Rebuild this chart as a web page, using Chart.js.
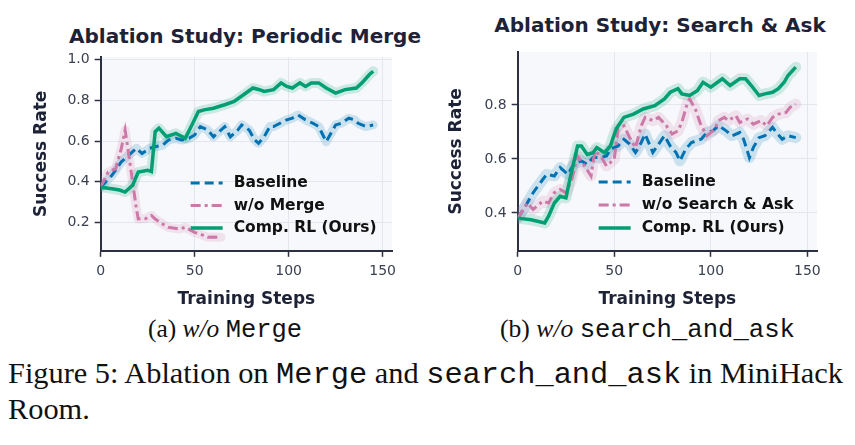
<!DOCTYPE html>
<html>
<head>
<meta charset="utf-8">
<script src="https://cdn.jsdelivr.net/npm/chart.js@4.4.1/dist/chart.umd.min.js"></script>
<style>
  body { margin: 0; background: #fff; width: 855px; height: 445px; overflow: hidden; position: relative; }
  canvas { position: absolute; top: 0; }
  #mergeChart { left: 0; }
  #searchChart { left: 425px; }
  .ptitle { position: absolute; transform: translate(-50%, -50%); white-space: nowrap;
            font: bold 20px "DejaVu Sans", sans-serif; color: #1d2236; }
  .sub { position: absolute; white-space: nowrap; transform-origin: 0 50%;
         font: 25px/30px "Liberation Serif", serif; color: #111; }
  .tt { font-family: "Liberation Mono", monospace; }
  .figcap { position: absolute; left: 8px; top: 356px; white-space: nowrap; transform-origin: 0 0;
            font: 30px/34px "Liberation Serif", serif; color: #111; }
</style>
</head>
<body>
<div class="ptitle" style="left:245px;top:36px">Ablation Study: Periodic Merge</div>
<div class="ptitle" style="left:660px;top:25px">Ablation Study: Search &amp; Ask</div>
<canvas id="mergeChart" width="420" height="310"></canvas>
<canvas id="searchChart" width="430" height="310"></canvas>
<div class="sub" id="capA" style="top:314px">(a) <i>w/o</i> <span class="tt">Merge</span></div>
<div class="sub" id="capB" style="top:314px">(b) <i>w/o</i> <span class="tt">search_and_ask</span></div>
<div class="figcap" id="figCap">Figure 5: Ablation on <span class="tt">Merge</span> and <span class="tt">search_and_ask</span> in MiniHack<br>Room.</div>
<script>
// ---- data ----
const xTicks = [0, 50, 100, 150];
const mergeYTicks = [0.2, 0.4, 0.6, 0.8, 1.0];
const searchYTicks = [0.4, 0.6, 0.8];

// (a) periodic merge
const mergeBaselineSteps = [0,6,11,15,19,22,26,29,33,36,40,43,47,50,53,57,60,64,66,69,73,75,79,82,84,87,90,92,96,99,102,105,109,113,116,120,122,125,128,132,135,137,141,145];
const mergeBaselineVals = [0.374,0.432,0.498,0.531,0.564,0.539,0.564,0.572,0.58,0.605,0.613,0.605,0.613,0.63,0.671,0.654,0.621,0.654,0.671,0.621,0.654,0.679,0.654,0.605,0.589,0.621,0.671,0.671,0.69,0.704,0.712,0.728,0.704,0.687,0.671,0.597,0.63,0.679,0.687,0.712,0.704,0.687,0.671,0.679];
const mergeAblSteps = [0,4,8,11,13,15,17,19,20,24,27,29,33,36,42,45,50,53,57,60,64];
const mergeAblVals = [0.374,0.448,0.465,0.564,0.654,0.531,0.399,0.268,0.218,0.22,0.235,0.218,0.193,0.177,0.169,0.177,0.152,0.144,0.128,0.13,0.128];
const mergeOursSteps = [0,6,10,13,17,20,25,27,29,31,35,40,45,49,52,55,60,66,71,76,81,84,87,92,96,99,102,106,109,112,116,120,125,130,136,139,143,145];
const mergeOursVals = [0.374,0.366,0.36,0.35,0.383,0.448,0.457,0.45,0.646,0.663,0.621,0.638,0.613,0.687,0.745,0.753,0.761,0.778,0.794,0.827,0.86,0.853,0.843,0.852,0.885,0.868,0.86,0.885,0.868,0.885,0.885,0.86,0.835,0.852,0.86,0.885,0.926,0.942];

// (b) search & ask
const searchBaselineSteps = [0,4,8,13,15,19,22,26,29,33,36,39,43,46,48,52,55,58,61,64,66,70,73,76,79,82,84,87,90,95,98,101,104,108,111,115,117,120,122,125,128,132,134,137,140,144];
const searchBaselineVals = [0.381,0.425,0.475,0.524,0.543,0.537,0.568,0.543,0.58,0.593,0.58,0.605,0.605,0.611,0.636,0.648,0.673,0.655,0.624,0.661,0.692,0.624,0.655,0.686,0.648,0.624,0.593,0.636,0.661,0.673,0.698,0.704,0.723,0.704,0.686,0.698,0.673,0.605,0.642,0.679,0.686,0.717,0.698,0.673,0.686,0.679];
const searchAblSteps = [0,5,8,13,16,19,22,25,28,31,33,38,40,43,46,50,52,55,58,61,64,66,70,73,77,80,83,85,88,89,92,95,98,102,104,107,109,113,115,119,122,126,129,132,135,139,141,144];
const searchAblVals = [0.381,0.437,0.413,0.444,0.437,0.475,0.487,0.475,0.524,0.611,0.593,0.537,0.63,0.611,0.574,0.599,0.711,0.723,0.679,0.642,0.723,0.754,0.742,0.754,0.723,0.692,0.704,0.735,0.81,0.822,0.785,0.723,0.686,0.71,0.742,0.754,0.742,0.76,0.735,0.748,0.729,0.742,0.723,0.754,0.766,0.772,0.791,0.803];
const searchOursSteps = [0,7,14,16,19,22,25,27,31,33,36,39,41,45,48,51,55,60,65,71,76,79,83,85,89,93,96,100,106,110,115,118,121,125,128,132,135,138,140,144];
const searchOursVals = [0.381,0.375,0.363,0.388,0.437,0.462,0.456,0.524,0.648,0.648,0.617,0.623,0.642,0.623,0.648,0.711,0.754,0.766,0.785,0.797,0.822,0.847,0.86,0.841,0.835,0.853,0.884,0.866,0.897,0.872,0.897,0.897,0.872,0.835,0.841,0.847,0.86,0.884,0.909,0.94];

const BLUE = "#0072B2", PINK = "#CC79A7", GREEN = "#009E73";
const DARK = "#2b3142";

function pts(steps, vals) {
  return steps.map((s, i) => ({ x: s, y: vals[i] }));
}

// light panel behind the plot
const panelBg = {
  id: "panelBg",
  beforeDraw(chart) {
    const a = chart.chartArea, ctx = chart.ctx;
    ctx.save();
    ctx.fillStyle = "#f7f8fb";
    ctx.fillRect(a.left, a.top, a.right - a.left, a.bottom - a.top);
    ctx.restore();
  },
};

// legend drawn inside the axes
const innerLegend = {
  id: "innerLegend",
  afterDatasetsDraw(chart, args, opts) {
    const ctx = chart.ctx, a = chart.chartArea;
    ctx.save();
    ctx.font = "bold 15.5px 'DejaVu Sans'";
    ctx.textBaseline = "middle";
    chart.data.datasets.filter(d => d.legendText).forEach((d, i) => {
      const y = a.top + opts.top + i * opts.rowH;
      const x0 = a.left + opts.left;
      ctx.strokeStyle = d.borderColor;
      ctx.lineWidth = d.borderWidth;
      ctx.setLineDash(d.borderDash || []);
      ctx.beginPath();
      ctx.moveTo(x0, y);
      ctx.lineTo(x0 + 32, y);
      ctx.stroke();
      ctx.setLineDash([]);
      ctx.fillStyle = "#111";
      ctx.fillText(d.legendText, x0 + 43, y);
    });
    ctx.restore();
  },
};

function series(label, steps, vals, color, band, dash, width, order) {
  return [
    { data: pts(steps, vals), borderColor: color + "2c", borderWidth: band, pointRadius: 0,
      borderJoinStyle: "round", borderCapStyle: "round", order: 10 + order },
    { legendText: label, data: pts(steps, vals), borderColor: color, borderWidth: width,
      borderDash: dash, pointRadius: 0, order: order },
  ];
}

function makeChart(id, datasets, yMin, yMax, yTicks, pad, yTitlePad, legendPos) {
  const canvas = document.getElementById(id);
  return new Chart(canvas, {
    type: "line",
    data: { datasets: datasets },
    plugins: [panelBg, innerLegend],
    options: {
      animation: false,
      responsive: false,
      devicePixelRatio: 1,
      layout: { padding: pad },
      plugins: {
        legend: { display: false },
        tooltip: { enabled: false },
        innerLegend: legendPos,
      },
      scales: {
        x: {
          type: "linear", min: 0, max: 155,
          afterBuildTicks: s => { s.ticks = xTicks.map(v => ({ value: v })); },
          ticks: { font: { family: "DejaVu Sans", size: 14 }, color: "#3b4152", padding: 6,
                   callback: v => String(v) },
          grid: { color: "#e3e6ec", tickColor: DARK, tickLength: 6, tickWidth: 1.5 },
          border: { color: DARK, width: 2 },
          title: { display: true, text: "Training Steps", color: "#1d2236",
                   font: { family: "DejaVu Sans", size: 17, weight: "bold" },
                   padding: { top: 4, bottom: 0 } },
        },
        y: {
          min: yMin, max: yMax,
          afterBuildTicks: s => { s.ticks = yTicks.map(v => ({ value: v })); },
          ticks: { font: { family: "DejaVu Sans", size: 14 }, color: "#3b4152", padding: 5,
                   callback: v => v.toFixed(1) },
          grid: { color: "#e3e6ec", tickColor: DARK, tickLength: 6, tickWidth: 1.5 },
          border: { color: DARK, width: 2 },
          title: { display: true, text: "Success Rate", color: "#1d2236",
                   font: { family: "DejaVu Sans", size: 17, weight: "bold" },
                   padding: { top: 3, bottom: yTitlePad } },
        },
      },
    },
  });
}

makeChart("mergeChart", [
  ...series("Baseline", mergeBaselineSteps, mergeBaselineVals, BLUE, 9, [9, 5], 3, 2),
  ...series("w/o Merge", mergeAblSteps, mergeAblVals, PINK, 9, [10, 4, 3, 4], 3, 1),
  ...series("Comp. RL (Ours)", mergeOursSteps, mergeOursVals, GREEN, 10, [], 3.5, 0),
], 0.062, 1.012, mergeYTicks, { left: 28, right: 28, top: 57, bottom: 0 }, 11,
   { left: 90, top: 126, rowH: 22.5 });

makeChart("searchChart", [
  ...series("Baseline", searchBaselineSteps, searchBaselineVals, BLUE, 11, [9, 5], 3, 2),
  ...series("w/o Search & Ask", searchAblSteps, searchAblVals, PINK, 11, [10, 4, 3, 4], 3, 1),
  ...series("Comp. RL (Ours)", searchOursSteps, searchOursVals, GREEN, 11, [], 3.5, 0),
], 0.26, 0.996, searchYTicks, { left: 18, right: 38, top: 52, bottom: 0 }, 13,
   { left: 81, top: 130, rowH: 23 });

// stretch caption text to the width it has in the figure
function fitWidth(el, left, width) {
  const w = el.getBoundingClientRect().width;
  el.style.left = left + "px";
  el.style.transform = "scaleX(" + (width / w) + ")";
}
fitWidth(document.getElementById("capA"), 148, 154);
fitWidth(document.getElementById("capB"), 500, 295);
fitWidth(document.getElementById("figCap"), 8, 835);
</script>
</body>
</html>
